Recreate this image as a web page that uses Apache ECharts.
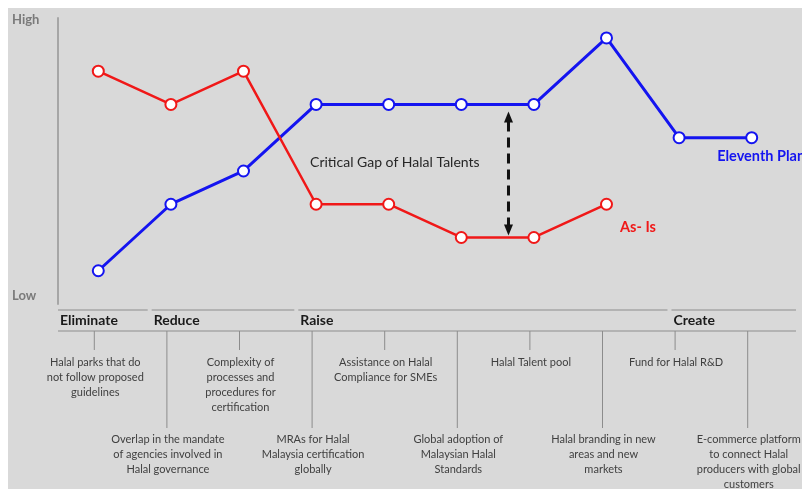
<!DOCTYPE html>
<html><head><meta charset="utf-8">
<script src="https://cdn.jsdelivr.net/npm/echarts@6/dist/echarts.min.js"></script>
<style>html,body{margin:0;padding:0;background:#fff}#c{width:802px;height:489px}</style>
</head><body><div id="c"></div>
<script>
const categories = [
  'Halal parks that do\nnot follow proposed\nguidelines',
  'Overlap in the mandate\nof agencies involved in\nHalal governance',
  'Complexity of\nprocesses and\nprocedures for\ncertification',
  'MRAs for Halal\nMalaysia certification\nglobally',
  'Assistance on Halal\nCompliance for SMEs',
  'Global adoption of\nMalaysian Halal\nStandards',
  'Halal Talent pool',
  'Halal branding in new\nareas and new\nmarkets',
  'Fund for Halal R&D',
  'E-commerce platform\nto connect Halal\nproducers with global\ncustomers'
];
const planValues = [1, 3, 4, 6, 6, 6, 6, 8, 5, 5];
const asIsValues = [7, 6, 7, 3, 3, 2, 2, 3];
const seriesNames = ['Eleventh Plan', 'As- Is'];
const yLabels = ['Low', 'High'];
const groupNames = ['Eliminate', 'Reduce', 'Raise', 'Create'];
const groupSpans = [1, 2, 5, 2];
const gapLabel = 'Critical Gap of Halal Talents';

const BLUE = '#1414f0', RED = '#f01818';
const chart = echarts.init(document.getElementById('c'), null, {renderer: 'canvas'});

function withEndLabel(values, color, offset) {
  return values.map((v, i) => i === values.length - 1 ? {
    value: v,
    label: {show: true, formatter: '{a}', position: 'right', offset: offset,
      color: color, fontFamily: 'Lato', fontWeight: 'bold', fontSize: 14.5}
  } : v);
}

chart.setOption({
  animation: false,
  backgroundColor: '#d9d9d9',
  grid: {left: 62, width: 726, top: 18, height: 286},
  xAxis: {type: 'category', data: categories, boundaryGap: true, show: false},
  yAxis: {type: 'value', min: 0, max: 8.6, offset: 4,
    axisLine: {show: true, lineStyle: {color: '#a6a6a6', width: 2}},
    axisTick: {show: false}, axisLabel: {show: false}, splitLine: {show: false}},
  series: [
    {name: seriesNames[0], type: 'line', data: withEndLabel(planValues, BLUE, [-46, 19]),
     symbol: 'emptyCircle', symbolSize: 11,
     lineStyle: {color: BLUE, width: 3}, itemStyle: {color: BLUE, borderWidth: 3}, z: 3},
    {name: seriesNames[1], type: 'line', data: withEndLabel(asIsValues, RED, [2, 23]),
     symbol: 'emptyCircle', symbolSize: 11,
     lineStyle: {color: RED, width: 2.5}, itemStyle: {color: RED, borderWidth: 3}, z: 4}
  ]
});

const px = i => chart.convertToPixel({xAxisIndex: 0}, i);
const py = v => chart.convertToPixel({yAxisIndex: 0}, v);
const bw = px(1) - px(0);
const axisX = 58, rightX = 796;
const g = [];

// white frame strips
g.push({type: 'rect', shape: {x: 0, y: 0, width: 802, height: 8}, style: {fill: '#fff'}, z: 100});
g.push({type: 'rect', shape: {x: 0, y: 0, width: 8, height: 489}, style: {fill: '#fff'}, z: 100});

// High / Low labels
g.push({type: 'text', x: 12, y: py(8.55), style: {text: yLabels[1], fill: '#7a7a7a',
  fontFamily: 'Lato', fontWeight: 'bold', fontSize: 13, align: 'left', verticalAlign: 'middle'}});
g.push({type: 'text', x: 12, y: py(0.25), style: {text: yLabels[0], fill: '#7a7a7a',
  fontFamily: 'Lato', fontWeight: 'bold', fontSize: 13, align: 'left', verticalAlign: 'middle'}});

// group header segments
const segY = py(0) + 6, ruleY = segY + 21;
const gapAfter = [0.68, 0.7, 0.84];
let idx = 0;
groupSpans.forEach((span, k) => {
  const first = idx, last = idx + span - 1;
  const x1 = k === 0 ? axisX : px(first - 1) + bw * gapAfter[k - 1] + 4;
  const x2 = k === groupSpans.length - 1 ? rightX : px(last) + bw * gapAfter[k];
  g.push({type: 'line', shape: {x1: x1, y1: segY, x2: x2, y2: segY},
    style: {stroke: '#a6a6a6', lineWidth: 1.5}});
  g.push({type: 'text', x: x1 + 2, y: segY + 10, style: {text: groupNames[k], fill: '#1a1a1a',
    fontFamily: 'Lato', fontWeight: 'bold', fontSize: 14, align: 'left', verticalAlign: 'middle'}});
  idx += span;
});
g.push({type: 'line', shape: {x1: axisX, y1: ruleY, x2: rightX, y2: ruleY},
  style: {stroke: '#a6a6a6', lineWidth: 1.5}});

// ticks and descriptions
categories.forEach((c, i) => {
  const x = px(i) - 4;
  const odd = i % 2 === 1;
  g.push({type: 'line', shape: {x1: x, y1: ruleY, x2: x, y2: odd ? ruleY + 97 : ruleY + 19},
    style: {stroke: '#8c8c8c', lineWidth: 1}});
  g.push({type: 'text', x: x + 1, y: odd ? ruleY + 101 : ruleY + 24, style: {text: c, fill: '#404040',
    fontFamily: 'Lato', fontSize: 11, lineHeight: 15, align: 'center', verticalAlign: 'top'}});
});

// critical gap arrow
const ax = px(5) + 0.65 * (px(6) - px(5));
const aTop = py(6) + 7, aBot = py(2) - 2;
g.push({type: 'line', shape: {x1: ax, y1: aTop + 10, x2: ax, y2: aBot - 10},
  style: {stroke: '#111', lineWidth: 3, lineDash: [10, 6]}});
g.push({type: 'polygon', shape: {points: [[ax, aTop], [ax - 4.5, aTop + 11], [ax + 4.5, aTop + 11]]}, style: {fill: '#111'}});
g.push({type: 'polygon', shape: {points: [[ax, aBot], [ax - 4.5, aBot - 11], [ax + 4.5, aBot - 11]]}, style: {fill: '#111'}});
g.push({type: 'text', x: px(3) - 6, y: py(4.25), style: {text: gapLabel, fill: '#262626',
  fontFamily: 'Lato', fontSize: 14, align: 'left', verticalAlign: 'middle'}});

chart.setOption({graphic: {elements: g}});
</script>
</body></html>
